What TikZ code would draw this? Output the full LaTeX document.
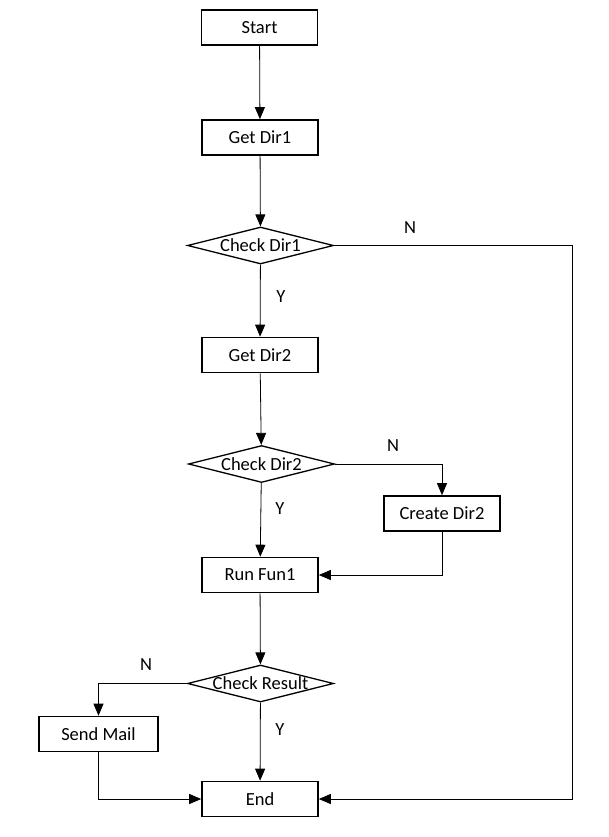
\documentclass[tikz,border=0pt]{standalone}
\usepackage{fontspec}
\setmainfont{Carlito}
\usepackage{tikz}
\usetikzlibrary{shapes.geometric,arrows.meta}

\tikzset{
	procbox/.style={draw,line width=1.6pt,minimum width=116pt,minimum height=35pt,inner sep=0pt},
	decision/.style={draw,diamond,line width=1.3pt,minimum width=146pt,minimum height=37pt,inner sep=0pt},
	flow/.style={line width=0.8pt,-{Triangle[length=12pt,width=10pt]}},
	yn/.style={font=\fontsize{18.5}{22}\selectfont}
}

\begin{document}
\begin{tikzpicture}[x=1pt,y=-1pt,font=\fontsize{18.5}{22}\selectfont]
	\useasboundingbox (0,0) rectangle (609,837);
	
	\node[procbox] (start) at (259.5,27.5) {Start};
	\node[procbox] (getdirone) at (260,137.5) {Get Dir1};
	\node[decision,label=center:{Check Dir1}] (chkdirone) at (260.5,245.5) {};
	\node[procbox] (getdirtwo) at (260,355) {Get Dir2};
	\node[decision,label=center:{Check Dir2}] (chkdirtwo) at (261.5,464) {};
	\node[procbox] (mkdirtwo) at (442,513.5) {Create Dir2};
	\node[procbox] (runfun) at (260,575) {Run Fun1};
	\node[decision,label=center:{Check Result}] (chkres) at (260.5,683.5) {};
	\node[procbox,minimum width=119pt] (sendmail) at (98.5,734) {Send Mail};
	\node[procbox] (end) at (260,799) {End};
	\coordinate (rgt) at (572,0);
	
	\draw[flow] (start) -- (getdirone);
	\draw[flow] (getdirone) -- (chkdirone);
	\draw[flow] (chkdirone) -- (getdirtwo);
	\draw[flow] (getdirtwo) -- (chkdirtwo);
	\draw[flow] (chkdirtwo) -- (runfun);
	\draw[flow] (runfun) -- (chkres);
	\draw[flow] (chkres) -- (end);
	\draw[flow] (chkdirone.east) -- (chkdirone.east -| rgt) |- (end.east);
	\draw[flow] (chkdirtwo.east) -| (mkdirtwo.north);
	\draw[flow] (mkdirtwo.south) |- (runfun.east);
	\draw[flow] (chkres.west) -| (sendmail.north);
	\draw[flow] (sendmail.south) |- (end.west);
	
	\node[yn] (none) at (410,228) {N};
	\node[yn] (yone) at (281,297) {Y};
	\node[yn] (ntwo) at (393,446) {N};
	\node[yn] (ytwo) at (280,509) {Y};
	\node[yn] (nres) at (146,665) {N};
	\node[yn] (yres) at (280,730) {Y};
\end{tikzpicture}
\end{document}
